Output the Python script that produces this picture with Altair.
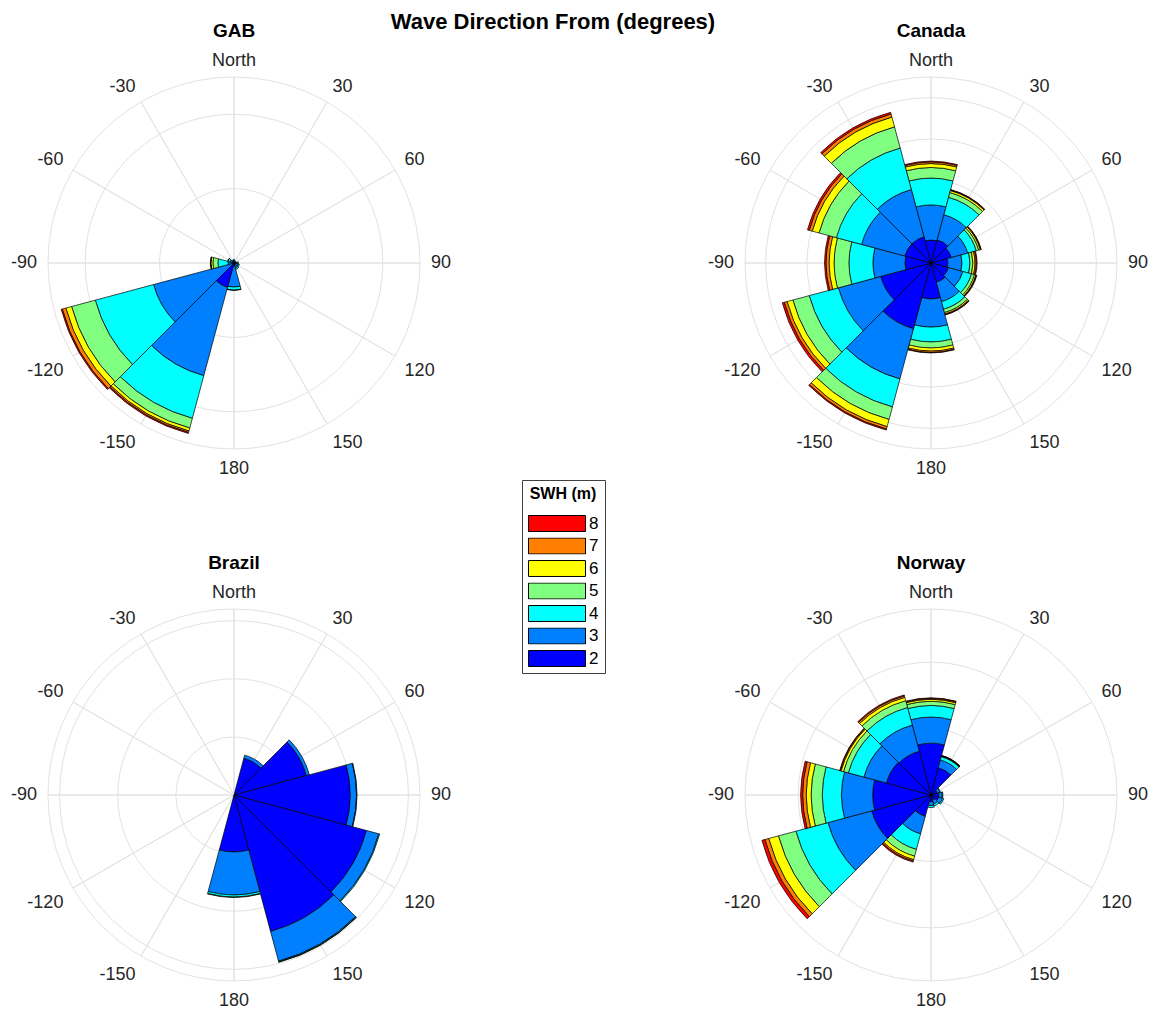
import math
import altair as alt
import pandas as pd

FONT = "Liberation Sans, Arial, Helvetica, sans-serif"

# ---------------- data ----------------
DIRECTIONS = [0, 30, 60, 90, 120, 150, 180, -150, -120, -90, -60, -30]
DIR_LABELS = ["North", "30", "60", "90", "120", "150", "180", "-150", "-120", "-90", "-60", "-30"]
BIN_WIDTH = 30
SWH_CLASSES = ["2", "3", "4", "5", "6", "7", "8"]
SWH_COLORS = ["#0000FF", "#0080FF", "#00FFFF", "#80FF80", "#FFFF00", "#FF8000", "#FF0000"]

# frequency (%) per direction bin (rows, order of DIRECTIONS) and SWH class (columns, order of SWH_CLASSES)
GAB_FREQ = [
    [0.15, 0.20, 0.10, 0.00, 0.00, 0.00, 0.00],
    [0.10, 0.15, 0.05, 0.00, 0.00, 0.00, 0.00],
    [0.10, 0.15, 0.05, 0.00, 0.00, 0.00, 0.00],
    [0.15, 0.30, 0.15, 0.00, 0.00, 0.00, 0.00],
    [0.20, 0.40, 0.15, 0.00, 0.00, 0.00, 0.00],
    [0.20, 0.50, 0.20, 0.00, 0.00, 0.00, 0.00],
    [0.40, 2.84, 0.41, 0.04, 0.00, 0.00, 0.00],
    [3.38, 12.30, 5.94, 1.35, 0.41, 0.20, 0.14],
    [0.20, 11.00, 8.10, 3.30, 0.80, 0.50, 0.15],
    [0.20, 0.61, 1.35, 0.68, 0.27, 0.04, 0.02],
    [0.15, 0.40, 0.30, 0.05, 0.00, 0.00, 0.00],
    [0.10, 0.20, 0.10, 0.00, 0.00, 0.00, 0.00],
]
CANADA_FREQ = [
    [1.11, 1.70, 1.30, 0.51, 0.19, 0.08, 0.04],
    [1.16, 1.26, 0.87, 0.24, 0.10, 0.03, 0.02],
    [1.02, 0.82, 0.43, 0.12, 0.08, 0.03, 0.02],
    [0.82, 0.68, 0.39, 0.14, 0.10, 0.06, 0.04],
    [0.87, 0.73, 0.43, 0.15, 0.07, 0.02, 0.03],
    [0.97, 0.97, 0.38, 0.17, 0.07, 0.03, 0.02],
    [1.74, 1.36, 0.72, 0.29, 0.15, 0.07, 0.02],
    [3.29, 2.52, 1.40, 0.63, 0.36, 0.12, 0.05],
    [2.52, 2.12, 1.46, 0.82, 0.29, 0.14, 0.10],
    [1.26, 1.55, 1.16, 0.72, 0.24, 0.15, 0.07],
    [1.31, 2.17, 1.26, 0.87, 0.34, 0.15, 0.09],
    [1.31, 2.37, 2.08, 1.06, 0.49, 0.16, 0.08],
]
BRAZIL_FREQ = [
    [0.00, 0.00, 0.00, 0.00, 0.00, 0.00, 0.00],
    [6.55, 0.55, 0.00, 0.00, 0.00, 0.00, 0.00],
    [12.90, 0.52, 0.00, 0.00, 0.00, 0.00, 0.00],
    [20.00, 1.08, 0.08, 0.00, 0.00, 0.00, 0.00],
    [23.60, 2.20, 0.15, 0.00, 0.00, 0.00, 0.00],
    [24.30, 5.30, 0.15, 0.05, 0.00, 0.00, 0.00],
    [9.80, 7.40, 0.35, 0.08, 0.00, 0.00, 0.00],
    [0.00, 0.00, 0.00, 0.00, 0.00, 0.00, 0.00],
    [0.00, 0.00, 0.00, 0.00, 0.00, 0.00, 0.00],
    [0.00, 0.00, 0.00, 0.00, 0.00, 0.00, 0.00],
    [0.00, 0.00, 0.00, 0.00, 0.00, 0.00, 0.00],
    [0.00, 0.00, 0.00, 0.00, 0.00, 0.00, 0.00],
]
NORWAY_FREQ = [
    [3.90, 1.97, 0.87, 0.31, 0.15, 0.07, 0.04],
    [2.12, 0.61, 0.26, 0.04, 0.02, 0.02, 0.01],
    [0.50, 0.20, 0.05, 0.00, 0.00, 0.00, 0.00],
    [0.60, 0.25, 0.05, 0.00, 0.00, 0.00, 0.00],
    [0.60, 0.30, 0.10, 0.00, 0.00, 0.00, 0.00],
    [0.40, 0.30, 0.15, 0.00, 0.00, 0.00, 0.00],
    [0.50, 0.30, 0.15, 0.00, 0.00, 0.00, 0.00],
    [1.67, 1.36, 1.21, 0.53, 0.27, 0.11, 0.08],
    [4.62, 3.41, 2.50, 1.36, 0.76, 0.30, 0.23],
    [4.39, 2.35, 1.44, 0.84, 0.37, 0.27, 0.15],
    [3.48, 1.75, 1.21, 0.38, 0.19, 0.07, 0.04],
    [3.41, 2.04, 1.37, 0.53, 0.26, 0.12, 0.07],
]

PANEL_NAMES = ["GAB", "Canada", "Brazil", "Norway"]
PANEL_FREQS = [GAB_FREQ, CANADA_FREQ, BRAZIL_FREQ, NORWAY_FREQ]
PANEL_RINGS = [[10, 20], [2, 4, 6, 8], [10, 20, 30], [5, 10]]
PANEL_RMAX = [25, 9, 32, 14]

# ---------------- layout / style ----------------
CENTERS = [(234, 263), (931, 263), (234, 795), (931, 795)]
TITLE_Y = [31, 31, 563, 563]
R_PX = 186
LABEL_R = 197
GRID = "#e2e2e2"

theta_scale = alt.Scale(domain=[-180, 180], range=[-math.pi, math.pi])
color_scale = alt.Scale(domain=SWH_CLASSES[::-1], range=SWH_COLORS[::-1])

legend = alt.Legend(
    title="SWH (m)", orient="none", legendX=522, legendY=480,
    titleFont=FONT, titleFontSize=16, titleFontWeight="bold", titleColor="black",
    titleAnchor="middle", titlePadding=13,
    labelFont=FONT, labelFontSize=17, labelColor="#000000", labelOffset=3,
    symbolType="M-1,-0.28H1V0.28H-1Z", symbolSize=3249,
    symbolStrokeColor="black", symbolStrokeWidth=1,
    clipHeight=17, rowPadding=4.5, padding=6,
    strokeColor="#404040", fillColor="white", cornerRadius=0,
)


def segments(freq):
    rows = []
    for d, fr in zip(DIRECTIONS, freq):
        cum = 0.0
        for cls, f in zip(SWH_CLASSES, fr):
            if f > 0:
                rows.append(dict(dir=d, cls=cls, t0=d - BIN_WIDTH / 2, t1=d + BIN_WIDTH / 2,
                                 r0=cum, r1=cum + f, freq=f))
            cum += f
    return pd.DataFrame(rows)


def label_style(a):
    """text anchoring of a direction label, like the polar-axes tick labels"""
    if a == 0:
        return ("center", "alphabetic")
    if a == 180:
        return ("center", "top")
    align = "left" if a > 0 else "right"
    if abs(a) < 90:
        base = "alphabetic"
    elif abs(a) == 90:
        base = "middle"
    else:
        base = "top"
    return (align, base)


label_df = pd.DataFrame({"a": DIRECTIONS, "label": DIR_LABELS})
label_df["style"] = [label_style(a) for a in DIRECTIONS]
LABEL_STYLES = list(dict.fromkeys(label_df["style"]))


def panel(i):
    cx, cy = CENTERS[i]
    rmax = PANEL_RMAX[i]
    rscale = alt.Scale(type="linear", domain=[0, rmax], range=[0, R_PX], zero=True, nice=False)
    pos = dict(x=alt.value(cx), y=alt.value(cy))

    rings = alt.Chart(pd.DataFrame({"r": PANEL_RINGS[i] + [rmax]})).mark_arc(
        fillOpacity=0, stroke=GRID, strokeWidth=1
    ).encode(
        theta=alt.value(0), theta2=alt.value(2 * math.pi),
        radius=alt.Radius("r:Q", scale=rscale, stack=False), **pos
    )

    spokes = alt.Chart(pd.DataFrame({"a": DIRECTIONS, "r": [rmax] * len(DIRECTIONS)})).mark_arc(
        fillOpacity=0, stroke=GRID, strokeWidth=1
    ).encode(
        theta=alt.Theta("a:Q", scale=theta_scale, stack=False), theta2="a:Q",
        radius=alt.Radius("r:Q", scale=rscale, stack=False), **pos
    )

    bars = alt.Chart(segments(PANEL_FREQS[i])).mark_arc(
        stroke="black", strokeWidth=0.7
    ).encode(
        theta=alt.Theta("t0:Q", scale=theta_scale, stack=False), theta2="t1:Q",
        radius=alt.Radius("r1:Q", scale=rscale, stack=False), radius2="r0:Q",
        color=alt.Color("cls:N", scale=color_scale, legend=legend),
        **pos
    )

    label_layers = []
    for align, base in LABEL_STYLES:
        sub = label_df[label_df["style"] == (align, base)][["a", "label"]]
        label_layers.append(
            alt.Chart(sub).mark_text(
                font=FONT, fontSize=18, color="#262626", align=align, baseline=base
            ).encode(
                theta=alt.Theta("a:Q", scale=theta_scale, stack=False),
                radius=alt.value(LABEL_R), text="label:N", **pos
            )
        )

    title = alt.Chart(pd.DataFrame({"t": [PANEL_NAMES[i]]})).mark_text(
        font=FONT, fontSize=19, fontWeight="bold", color="black", align="center", baseline="middle"
    ).encode(text="t:N", x=alt.value(cx), y=alt.value(TITLE_Y[i]))

    return alt.layer(rings, spokes, bars, *label_layers, title)


legend_sep = alt.Chart(pd.DataFrame({"k": [0]})).mark_rule(color="#404040", strokeWidth=1).encode(
    x=alt.value(522), x2=alt.value(606), y=alt.value(508)
)

main_title = alt.Chart(pd.DataFrame({"t": ["Wave Direction From (degrees)"]})).mark_text(
    font=FONT, fontSize=22, fontWeight="bold", color="black", align="center", baseline="middle"
).encode(text="t:N", x=alt.value(553), y=alt.value(22))

chart = alt.layer(
    panel(0), panel(1), panel(2), panel(3), legend_sep, main_title
).resolve_scale(
    radius="independent"
).properties(
    width=1153, height=1010, padding=0,
    autosize=alt.AutoSizeParams(type="none"), background="white"
).configure_view(strokeWidth=0)

chart.save("out.html", embed_options={"renderer": "svg", "actions": False})
